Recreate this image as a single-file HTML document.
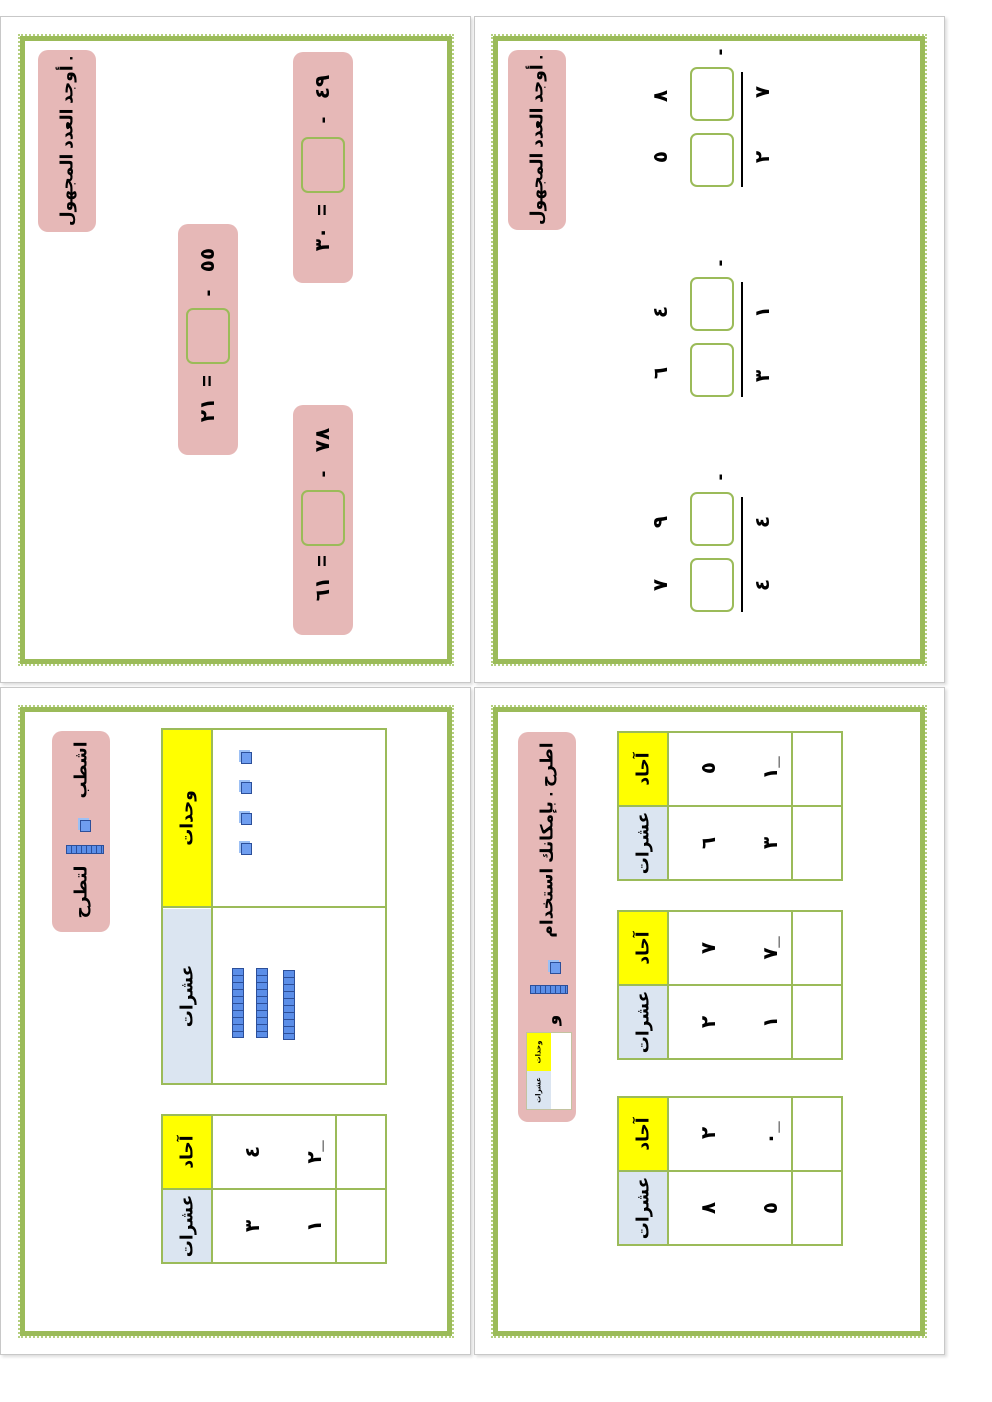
<!DOCTYPE html>
<html><head><meta charset="utf-8"><style>
body{margin:0;width:992px;height:1402px;position:relative;background:#fff;overflow:hidden;font-family:"Liberation Sans","DejaVu Sans",sans-serif}
.a{position:absolute;box-sizing:border-box}
.card{border:1.5px solid #c8c8c8;box-shadow:2px 2px 3px #ddd}
.g{border:5px solid #9bbb59;outline:2px dotted #b5cf80;outline-offset:0}
.pill{background:#e6b8b7;border-radius:10px}
.box{border:2px solid #9bbb59;border-radius:7px}
.r{position:absolute;transform:translate(-50%,-50%) rotate(-90deg);white-space:nowrap;font-weight:bold;color:#000;line-height:1}
.d{font-size:20px}
.t{font-size:17px}
.y{background:#ffff00}
.b{background:#dbe5f1}
.ln{background:#9bbb59}
.cube{position:absolute;width:9px;height:10px;background:#6f9ef0;border:1px solid #2c4f9a;box-shadow:-2px -2px 0 #9cc0f5}
.rod{position:absolute;background:repeating-linear-gradient(180deg,#5b8ee8 0 6px,#2c4f9a 6px 7px);border:1px solid #2c4f9a}
.rodh{position:absolute;background:repeating-linear-gradient(90deg,#5b8ee8 0 4px,#2c4f9a 4px 5px);border:1px solid #2c4f9a}
</style></head><body>
<!-- cards -->
<div class="a card" style="left:0;top:16px;width:471px;height:667px"></div>
<div class="a card" style="left:474px;top:16px;width:471px;height:667px"></div>
<div class="a card" style="left:0;top:687px;width:471px;height:668px"></div>
<div class="a card" style="left:474px;top:687px;width:471px;height:668px"></div>
<div class="a g" style="left:20px;top:36px;width:432px;height:628px"></div>
<div class="a g" style="left:493px;top:36px;width:432px;height:628px"></div>
<div class="a g" style="left:20px;top:707px;width:432px;height:629px"></div>
<div class="a g" style="left:493px;top:707px;width:432px;height:629px"></div>

<!-- TL -->
<div class="a pill" style="left:38px;top:50px;width:58px;height:182px"></div>
<div class="r t" style="left:67px;top:141px">أوجد العدد المجهول .</div>
<div class="a pill" style="left:178px;top:224px;width:60px;height:231px"></div>
<div class="r d" style="left:208px;top:260px">٥٥</div><div class="r d" style="left:208px;top:293px">-</div>
<div class="a box" style="left:186px;top:308px;width:44px;height:56px"></div>
<div class="r d" style="left:208px;top:381px">=</div><div class="r d" style="left:208px;top:410px">٢١</div>
<div class="a pill" style="left:293px;top:52px;width:60px;height:231px"></div>
<div class="r d" style="left:323px;top:87px">٤٩</div><div class="r d" style="left:323px;top:120px">-</div>
<div class="a box" style="left:301px;top:137px;width:44px;height:56px"></div>
<div class="r d" style="left:323px;top:210px">=</div><div class="r d" style="left:323px;top:239px">٣٠</div>
<div class="a pill" style="left:293px;top:405px;width:60px;height:230px"></div>
<div class="r d" style="left:323px;top:440px">٧٨</div><div class="r d" style="left:323px;top:474px">-</div>
<div class="a box" style="left:301px;top:490px;width:44px;height:56px"></div>
<div class="r d" style="left:323px;top:561px">=</div><div class="r d" style="left:323px;top:589px">٦١</div>

<!-- TR -->
<div class="a pill" style="left:508px;top:50px;width:58px;height:180px"></div>
<div class="r t" style="left:537px;top:140px">أوجد العدد المجهول .</div>
<div class="r d" style="left:720px;top:52px">-</div>
<div class="a box" style="left:690px;top:67px;width:44px;height:54px"></div>
<div class="a box" style="left:690px;top:133px;width:44px;height:54px"></div>
<div class="a" style="left:741px;top:72px;width:2px;height:115px;background:#000"></div>
<div class="r d" style="left:661px;top:96px">٨</div><div class="r d" style="left:661px;top:157px">٥</div>
<div class="r d" style="left:763px;top:92px">٧</div><div class="r d" style="left:763px;top:157px">٢</div>
<div class="r d" style="left:720px;top:263px">-</div>
<div class="a box" style="left:690px;top:277px;width:44px;height:54px"></div>
<div class="a box" style="left:690px;top:343px;width:44px;height:54px"></div>
<div class="a" style="left:741px;top:282px;width:2px;height:115px;background:#000"></div>
<div class="r d" style="left:661px;top:312px">٤</div><div class="r d" style="left:661px;top:373px">٦</div>
<div class="r d" style="left:763px;top:312px">١</div><div class="r d" style="left:763px;top:376px">٣</div>
<div class="r d" style="left:720px;top:477px">-</div>
<div class="a box" style="left:690px;top:492px;width:44px;height:54px"></div>
<div class="a box" style="left:690px;top:558px;width:44px;height:54px"></div>
<div class="a" style="left:741px;top:497px;width:2px;height:115px;background:#000"></div>
<div class="r d" style="left:661px;top:522px">٩</div><div class="r d" style="left:661px;top:585px">٧</div>
<div class="r d" style="left:763px;top:522px">٤</div><div class="r d" style="left:763px;top:585px">٤</div>

<!-- BL -->
<div class="a pill" style="left:52px;top:731px;width:58px;height:201px"></div>
<div class="r t" style="left:81px;top:770px">اشطب</div>
<div class="cube" style="left:80px;top:820px"></div>
<div class="rodh" style="left:66px;top:845px;width:36px;height:7px"></div>
<div class="r t" style="left:81px;top:892px">لتطرح</div>

<div class="a" style="left:161px;top:728px;width:226px;height:357px;border:2px solid #9bbb59"></div>
<div class="a y" style="left:163px;top:730px;width:48px;height:177px"></div>
<div class="a b" style="left:163px;top:909px;width:48px;height:174px"></div>
<div class="a ln" style="left:211px;top:730px;width:2px;height:353px"></div>
<div class="a ln" style="left:163px;top:906px;width:222px;height:2px"></div>
<div class="r t" style="left:187px;top:818px">وحدات</div>
<div class="r t" style="left:187px;top:996px">عشرات</div>
<div class="cube" style="left:241px;top:752px"></div><div class="cube" style="left:241px;top:782px"></div>
<div class="cube" style="left:241px;top:813px"></div><div class="cube" style="left:241px;top:843px"></div>
<div class="rod" style="left:232px;top:968px;width:10px;height:68px"></div>
<div class="rod" style="left:256px;top:968px;width:10px;height:68px"></div>
<div class="rod" style="left:283px;top:970px;width:10px;height:68px"></div>

<div class="a" style="left:161px;top:1114px;width:226px;height:150px;border:2px solid #9bbb59"></div>
<div class="a y" style="left:163px;top:1116px;width:48px;height:72px"></div>
<div class="a b" style="left:163px;top:1190px;width:48px;height:72px"></div>
<div class="a ln" style="left:211px;top:1116px;width:2px;height:146px"></div>
<div class="a ln" style="left:335px;top:1116px;width:2px;height:146px"></div>
<div class="a ln" style="left:163px;top:1188px;width:222px;height:2px"></div>
<div class="r t" style="left:187px;top:1152px">آحاد</div>
<div class="r t" style="left:187px;top:1226px">عشرات</div>
<div class="r d" style="left:253px;top:1152px">٤</div><div class="r d" style="left:253px;top:1226px">٣</div>
<div class="r d" style="left:315px;top:1152px">٢_</div><div class="r d" style="left:315px;top:1226px">١</div>

<!-- BR -->
<div class="a pill" style="left:518px;top:732px;width:58px;height:390px"></div>
<div class="r t" style="left:547px;top:840px">اطرح . بإمكانك استخدام</div>
<div class="cube" style="left:550px;top:962px"></div>
<div class="rodh" style="left:530px;top:985px;width:36px;height:7px"></div>
<div class="r t" style="left:552px;top:1020px">و</div>
<div class="a" style="left:526px;top:1032px;width:46px;height:78px;border:1px solid #c3c3a0;background:#fff"></div>
<div class="a y" style="left:527px;top:1033px;width:24px;height:38px"></div>
<div class="a b" style="left:527px;top:1071px;width:24px;height:38px"></div>
<div class="r" style="left:539px;top:1052px;font-size:7px">وحدات</div>
<div class="r" style="left:539px;top:1090px;font-size:7px">عشرات</div>

<div class="a" style="left:617px;top:731px;width:226px;height:150px;border:2px solid #9bbb59"></div>
<div class="a y" style="left:619px;top:733px;width:48px;height:72px"></div>
<div class="a b" style="left:619px;top:807px;width:48px;height:72px"></div>
<div class="a ln" style="left:667px;top:733px;width:2px;height:146px"></div>
<div class="a ln" style="left:791px;top:733px;width:2px;height:146px"></div>
<div class="a ln" style="left:619px;top:805px;width:222px;height:2px"></div>
<div class="r t" style="left:643px;top:769px">آحاد</div><div class="r t" style="left:643px;top:843px">عشرات</div>
<div class="r d" style="left:709px;top:768px">٥</div><div class="r d" style="left:709px;top:843px">٦</div>
<div class="r d" style="left:771px;top:768px">١_</div><div class="r d" style="left:771px;top:843px">٣</div>

<div class="a" style="left:617px;top:910px;width:226px;height:150px;border:2px solid #9bbb59"></div>
<div class="a y" style="left:619px;top:912px;width:48px;height:72px"></div>
<div class="a b" style="left:619px;top:986px;width:48px;height:72px"></div>
<div class="a ln" style="left:667px;top:912px;width:2px;height:146px"></div>
<div class="a ln" style="left:791px;top:912px;width:2px;height:146px"></div>
<div class="a ln" style="left:619px;top:984px;width:222px;height:2px"></div>
<div class="r t" style="left:643px;top:948px">آحاد</div><div class="r t" style="left:643px;top:1022px">عشرات</div>
<div class="r d" style="left:709px;top:948px">٧</div><div class="r d" style="left:709px;top:1022px">٢</div>
<div class="r d" style="left:771px;top:948px">٧_</div><div class="r d" style="left:771px;top:1022px">١</div>

<div class="a" style="left:617px;top:1096px;width:226px;height:150px;border:2px solid #9bbb59"></div>
<div class="a y" style="left:619px;top:1098px;width:48px;height:72px"></div>
<div class="a b" style="left:619px;top:1172px;width:48px;height:72px"></div>
<div class="a ln" style="left:667px;top:1098px;width:2px;height:146px"></div>
<div class="a ln" style="left:791px;top:1098px;width:2px;height:146px"></div>
<div class="a ln" style="left:619px;top:1170px;width:222px;height:2px"></div>
<div class="r t" style="left:643px;top:1134px">آحاد</div><div class="r t" style="left:643px;top:1208px">عشرات</div>
<div class="r d" style="left:709px;top:1133px">٢</div><div class="r d" style="left:709px;top:1208px">٨</div>
<div class="r d" style="left:771px;top:1133px">٠_</div><div class="r d" style="left:771px;top:1208px">٥</div>
</body></html>
